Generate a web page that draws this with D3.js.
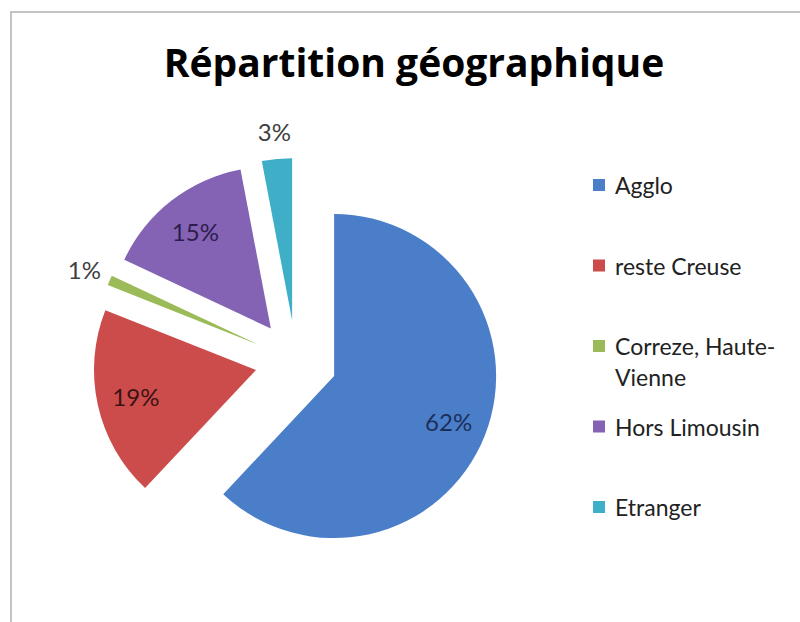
<!DOCTYPE html>
<html>
<head>
<meta charset="utf-8">
<script src="https://cdn.jsdelivr.net/npm/d3@7"></script>
<style>
	body { margin: 0; background: #fff; }
	svg { display: block; }
	text { font-variant-ligatures: none; }
</style>
</head>
<body>
<svg id="chart" width="800" height="622"></svg>
<script>
const categories = ["Agglo", "reste Creuse", "Correze, Haute-Vienne", "Hors Limousin", "Etranger"];
const values = [62, 19, 1, 15, 3];
const legendLines = [["Agglo"], ["reste Creuse"], ["Correze, Haute-", "Vienne"], ["Hors Limousin"], ["Etranger"]];
const colors = ["#4a7ec8", "#cc4b4b", "#9bbb59", "#8462b4", "#3fafc8"];
const labelColors = ["#1c2f5a", "#3b1414", "#404040", "#2d1d4d", "#404040"];
const labelInside = [true, true, false, true, false];

const svg = d3.select("svg#chart");
const width = +svg.attr("width");
const height = +svg.attr("height");

// chart frame (runs off the right and bottom edge)
svg.append("rect")
	.attr("x", 11)
	.attr("y", 12)
	.attr("width", width + 20)
	.attr("height", height + 20)
	.attr("fill", "#fff")
	.style("stroke", "#c4c4c4")
	.style("stroke-width", 2);

svg.append("text")
	.attr("x", 414)
	.attr("y", 77)
	.attr("text-anchor", "middle")
	.style("font", "bold 39px 'Open Sans'")
	.style("fill", "#000")
	.text("Répartition géographique");

const radius = 162;
const explode = 41;
const cx = 296, cy = 361;

const pie = d3.pie().sort(null).value(d => d);
const arcs = pie(values);
const arc = d3.arc().innerRadius(0).outerRadius(radius);

const pieArea = svg.append("g")
	.attr("id", "pie")
	.attr("transform", `translate(${cx},${cy})`);

arcs.forEach(function (a, i) {
	let mid = (a.startAngle + a.endAngle) / 2;
	let dx = explode * Math.sin(mid);
	let dy = -explode * Math.cos(mid);

	let g = pieArea.append("g").attr("transform", `translate(${dx},${dy})`);

	g.append("path")
		.attr("d", arc(a))
		.attr("fill", colors[i]);

	// inside labels sit ~0.76r out, outside ones past the rim
	let lr = labelInside[i] ? radius * 0.76 : radius * 1.17;
	g.append("text")
		.attr("x", lr * Math.sin(mid))
		.attr("y", -lr * Math.cos(mid))
		.attr("text-anchor", "middle")
		.attr("dominant-baseline", "central")
		.style("font", "24px Lato")
		.style("fill", labelColors[i])
		.text(values[i] + "%");
});

const legendY = d3.scaleLinear().domain([0, categories.length - 1]).range([185, 507]);
const legend = svg.append("g").attr("id", "legend");

categories.forEach(function (c, i) {
	let y = legendY(i);
	legend.append("rect")
		.attr("x", 593)
		.attr("y", y - 6)
		.attr("width", 12)
		.attr("height", 12)
		.attr("fill", colors[i]);

	legendLines[i].forEach(function (line, j) {
		legend.append("text")
			.attr("x", 615)
			.attr("y", y + j * 31)
			.attr("dominant-baseline", "central")
			.style("font", "23px Lato")
			.style("fill", "#222")
			.text(line);
	});
});
</script>
</body>
</html>
